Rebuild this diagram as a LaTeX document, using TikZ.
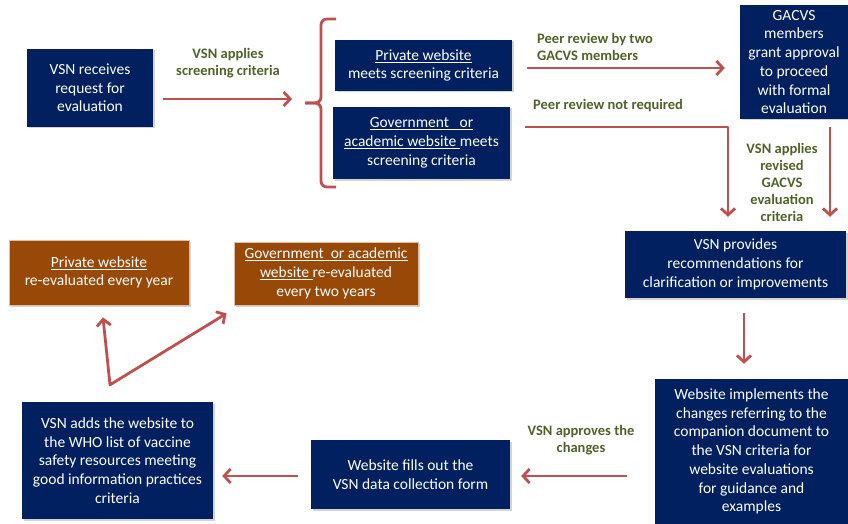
\documentclass[tikz,border=0pt]{standalone}
\usepackage{fontspec}
\setmainfont{Carlito}
\usetikzlibrary{arrows.meta,shadows}
\definecolor{vsnblue}{HTML}{002060}
\definecolor{vsnbrown}{HTML}{984807}
\definecolor{vsnred}{HTML}{C0504D}
\definecolor{vsnolive}{HTML}{4F6228}
\tikzset{
  box/.style={fill=vsnblue,text=white,align=center,inner sep=0pt,
    font=\fontsize{15.5}{18.7}\selectfont,
    drop shadow={shadow xshift=1.5pt,shadow yshift=-1.5pt,opacity=0.35}},
  rebox/.style={box,fill=vsnbrown,draw=vsnbrown!35!white,line width=0.8pt},
  lbl/.style={text=vsnolive,font=\bfseries\fontsize{14.5}{17}\selectfont,inner sep=0pt},
  arr/.style={draw=vsnred,line width=2.8pt,line join=round,
    -{Straight Barb[length=6.5pt,width=14pt]}},
  brc/.style={draw=vsnred,line width=2.8pt,rounded corners=6pt}
}
\begin{document}
\begin{tikzpicture}[x=1pt,y=-1pt]
      \useasboundingbox (0,0) rectangle (848,524);
      % boxes
      \node[box,minimum width=126pt,minimum height=78pt] (request) at (90,88) {VSN receives\\request for\\evaluation};
      \node[box,minimum width=177pt,minimum height=51pt] (private) at (423.5,65.5) {\underline{Private website}\\meets screening criteria};
      \node[box,minimum width=177pt,minimum height=72pt] (govt) at (421.5,143) {\underline{Government\ \ \ or}\\\underline{academic website }meets\\screening criteria};
      \node[box,minimum width=108pt,minimum height=114pt] (gacvs) at (794,62) {GACVS\\members\\grant approval\\to proceed\\with formal\\evaluation};
      \node[box,minimum width=221pt,minimum height=67pt] (recs) at (735.5,264.5) {VSN provides\\recommendations for\\clarification or improvements};
      \node[box,minimum width=193pt,minimum height=145pt] (implement) at (751.5,451.5) {Website implements the\\changes referring to the\\companion document to\\the VSN criteria for\\website evaluations\\for guidance and\\examples};
      \node[box,minimum width=199pt,minimum height=69pt] (form) at (410.5,474.5) {Website fills out the\\VSN data collection form};
      \node[box,minimum width=191pt,minimum height=117pt] (who) at (117.5,460.5) {VSN adds the website to\\the WHO list of vaccine\\safety resources meeting\\good information practices\\criteria};
      \node[rebox,minimum width=180pt,minimum height=65pt] (yearly) at (99,272.5) {\underline{Private website}\\re-evaluated every year};
      \node[rebox,minimum width=184pt,minimum height=63pt] (biennial) at (326,273.5) {\underline{Government\ \ or academic}\\\underline{website }re-evaluated\\every two years};
      % labels
      \node[lbl,align=center] (lscreen) at (228,63) {VSN applies\\screening criteria};
      \node[lbl,align=left,anchor=west] (lpeer) at (537,47) {Peer review by two\\GACVS members};
      \node[lbl,anchor=west] (lnopeer) at (533,106) {Peer review not required};
      \node[lbl,align=center] (lrevised) at (782,182) {VSN applies\\revised\\GACVS\\evaluation\\criteria};
      \node[lbl,align=center] (lapprove) at (581,440) {VSN approves the\\changes};
      % brace
      \coordinate (brtip) at (305,103);
      \coordinate (ain) at (292,99);
      \draw[brc] (336,19) -| (321,103) -- (brtip);
      \draw[brc] (brtip) -- (321,103) |- (336,187);
      % arrows
      \draw[arr] ([xshift=10pt]request.east |- ain) -- (ain);
      \draw[arr] ([xshift=15pt,yshift=-2.5pt]private.east) -- ([xshift=-15pt,yshift=-2.5pt]gacvs.west |- private.east);
      \coordinate (cturn) at (728,127);
      \draw[arr] ([xshift=15pt]govt.east |- cturn) -| ([yshift=14pt]recs.north -| cturn);
      \draw[arr] ([xshift=36pt,yshift=-8pt]gacvs.south) -- ([xshift=36pt,yshift=14pt]gacvs.south |- recs.north);
      \draw[arr] ([xshift=8.5pt,yshift=-15pt]recs.south) -- ([xshift=8.5pt,yshift=15pt]recs.south |- implement.north);
      \draw[arr] ([xshift=-28pt,yshift=-1.5pt]implement.west |- form.east) -- ([xshift=11pt,yshift=-1.5pt]form.east);
      \draw[arr] ([xshift=-13pt,yshift=-1.5pt]form.west) -- ([xshift=9pt,yshift=-1.5pt]who.east |- form.west);
      \coordinate (split) at ([xshift=-7.5pt,yshift=17pt]who.north);
      \draw[arr,{Straight Barb[length=6.5pt,width=14pt]}-{Straight Barb[length=6.5pt,width=14pt]}] ([xshift=4pt,yshift=-12pt]yearly.south) -- (split) -- ([xshift=-7pt,yshift=-8pt]biennial.south west);
\end{tikzpicture}
\end{document}
